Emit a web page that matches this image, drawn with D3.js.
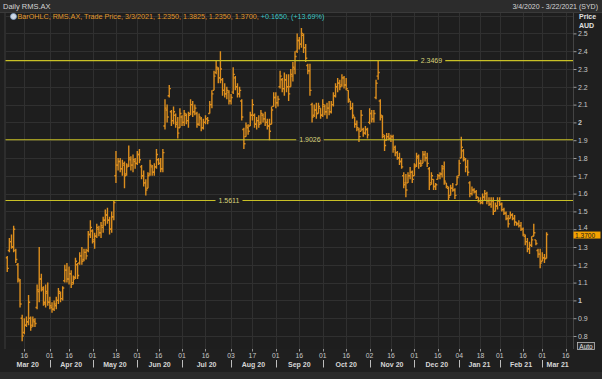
<!DOCTYPE html>
<html><head><meta charset="utf-8">
<script src="https://cdn.jsdelivr.net/npm/d3@7"></script>
<style>
html,body{margin:0;padding:0;background:#1f1f1f;overflow:hidden}
svg{display:block}
text{font-family:"Liberation Sans",Arial,sans-serif}
</style>
</head><body>
<svg id="chart" width="602" height="379"></svg>
<script>
// ---- data ----
const startDate = "2020-03-04";
const endDate = "2021-03-22";
const holidays = ["2020-04-10","2020-04-13","2020-06-08","2020-12-25","2020-12-28","2021-01-01","2021-01-26"];

const highs = [1.25,1.35,1.37,1.42,1.29,1.21,1.12,0.92,0.90,0.91,1.03,0.91,0.91,0.90,1.09,1.30,1.15,1.08,1.09,1.10,
1.02,0.99,1.00,1.02,1.07,1.05,1.08,1.20,1.21,1.19,1.17,1.14,1.24,1.21,1.27,1.30,1.29,1.29,1.39,1.45,
1.40,1.38,1.43,1.42,1.44,1.47,1.51,1.52,1.47,1.50,1.56,1.84,1.80,1.80,1.79,1.78,1.77,1.87,1.81,1.82,
1.80,1.84,1.85,1.76,1.73,1.68,1.72,1.79,1.76,1.77,1.85,1.80,1.80,1.85,2.13,2.10,2.21,2.07,2.09,2.05,
2.03,2.08,2.04,2.07,2.05,2.06,2.13,2.12,2.10,2.06,2.05,2.03,2.02,2.04,2.03,2.12,2.18,2.29,2.35,2.31,
2.40,2.25,2.22,2.20,2.18,2.16,2.31,2.26,2.22,2.20,2.13,1.97,2.00,1.99,2.06,2.13,2.05,2.03,2.04,2.07,
2.05,2.06,2.02,2.02,2.09,2.17,2.17,2.15,2.29,2.25,2.28,2.27,2.27,2.30,2.34,2.40,2.50,2.48,2.53,2.50,
2.44,2.33,2.33,2.11,2.10,2.11,2.11,2.08,2.13,2.10,2.11,2.12,2.12,2.17,2.22,2.25,2.24,2.27,2.26,2.25,
2.18,2.12,2.11,2.03,2.01,1.97,2.07,1.97,1.98,1.97,2.08,2.07,2.07,2.24,2.35,2.13,2.04,1.93,1.94,1.94,
1.93,1.93,1.87,1.84,1.83,1.80,1.72,1.71,1.72,1.75,1.73,1.77,1.83,1.82,1.79,1.84,1.84,1.83,1.75,1.72,
1.68,1.66,1.71,1.72,1.76,1.78,1.66,1.64,1.65,1.66,1.63,1.70,1.79,1.92,1.85,1.80,1.79,1.67,1.64,1.63,
1.62,1.58,1.58,1.60,1.62,1.61,1.58,1.58,1.58,1.55,1.58,1.58,1.55,1.52,1.50,1.48,1.50,1.49,1.48,1.44,
1.45,1.44,1.41,1.37,1.35,1.33,1.36,1.43,1.34,1.29,1.29,1.27,1.26,1.3825];

const lows = [1.16,1.27,1.29,1.27,1.21,1.10,0.96,0.77,0.81,0.85,0.86,0.83,0.85,0.85,0.95,0.99,1.05,0.97,0.96,0.97,
0.95,0.93,0.94,0.95,0.98,0.99,1.00,1.10,1.10,1.09,1.07,1.09,1.12,1.12,1.20,1.20,1.22,1.23,1.27,1.35,
1.32,1.29,1.35,1.36,1.35,1.38,1.42,1.43,1.37,1.38,1.45,1.66,1.73,1.72,1.70,1.63,1.70,1.75,1.73,1.72,
1.74,1.76,1.77,1.68,1.64,1.59,1.63,1.70,1.70,1.70,1.74,1.76,1.72,1.72,1.96,2.00,2.14,1.98,1.99,1.97,
1.91,1.97,1.98,1.98,1.99,1.97,2.04,2.03,2.04,1.97,1.98,1.95,1.96,1.99,1.99,2.05,2.08,2.18,2.27,2.22,
2.22,2.15,2.14,2.13,2.10,2.10,2.16,2.18,2.14,2.14,2.01,1.85,1.92,1.93,1.98,2.01,1.97,1.96,1.97,1.99,
2.00,1.98,1.96,1.90,1.99,2.09,2.08,2.09,2.19,2.17,2.15,2.17,2.12,2.20,2.23,2.27,2.39,2.41,2.42,2.39,
2.34,2.27,2.15,2.00,2.03,2.02,2.05,2.02,2.03,2.04,2.02,2.04,2.05,2.09,2.14,2.17,2.18,2.20,2.19,2.18,
2.11,2.07,2.02,1.97,1.95,1.89,1.95,1.92,1.93,1.91,1.99,2.00,2.00,2.13,2.24,2.01,1.91,1.84,1.90,1.90,
1.89,1.83,1.81,1.79,1.76,1.74,1.63,1.58,1.66,1.68,1.66,1.70,1.75,1.74,1.75,1.77,1.78,1.75,1.62,1.65,
1.62,1.62,1.68,1.68,1.69,1.65,1.63,1.56,1.59,1.61,1.57,1.65,1.70,1.80,1.78,1.72,1.70,1.58,1.59,1.60,
1.57,1.55,1.54,1.54,1.56,1.54,1.53,1.52,1.48,1.50,1.51,1.53,1.50,1.48,1.45,1.41,1.46,1.45,1.42,1.42,
1.41,1.39,1.36,1.31,1.27,1.26,1.30,1.36,1.31,1.24,1.18,1.22,1.21,1.235];

const opens = [1.24,1.28,1.33,1.30,1.28,1.20,1.11,0.90,0.82,0.86,0.88,0.90,0.86,0.88,0.96,1.05,1.12,1.06,0.98,1.04,
0.99,0.96,0.95,0.97,1.00,1.04,1.01,1.11,1.17,1.12,1.15,1.10,1.13,1.20,1.21,1.25,1.23,1.27,1.28,1.37,
1.39,1.33,1.36,1.40,1.38,1.41,1.45,1.48,1.45,1.40,1.47,1.70,1.76,1.78,1.74,1.76,1.71,1.76,1.79,1.76,
1.78,1.77,1.82,1.75,1.70,1.66,1.63,1.71,1.75,1.72,1.75,1.79,1.77,1.74,1.98,2.07,2.15,2.06,2.01,2.04,
2.00,1.97,2.03,2.00,2.04,2.01,2.05,2.10,2.06,2.05,1.99,2.02,1.97,2.00,2.02,2.05,2.10,2.18,2.28,2.30,
2.25,2.24,2.18,2.16,2.17,2.12,2.17,2.25,2.20,2.16,2.12,1.96,1.92,1.97,1.98,2.04,2.04,1.99,2.01,2.00,
2.04,2.02,2.00,1.98,1.99,2.09,2.14,2.11,2.20,2.24,2.19,2.24,2.20,2.20,2.26,2.30,2.40,2.46,2.44,2.49,
2.42,2.32,2.29,2.10,2.04,2.07,2.05,2.08,2.04,2.09,2.06,2.08,2.06,2.10,2.15,2.20,2.22,2.21,2.25,2.21,
2.18,2.12,2.08,2.03,1.99,1.96,1.95,1.96,1.94,1.96,2.00,2.05,2.02,2.14,2.26,2.12,2.03,1.92,1.90,1.92,
1.91,1.92,1.86,1.83,1.80,1.78,1.70,1.66,1.66,1.70,1.72,1.70,1.76,1.80,1.77,1.77,1.82,1.80,1.74,1.66,
1.68,1.64,1.68,1.70,1.71,1.75,1.66,1.63,1.59,1.63,1.62,1.65,1.70,1.80,1.84,1.79,1.75,1.66,1.60,1.62,
1.61,1.58,1.56,1.55,1.58,1.60,1.56,1.54,1.56,1.50,1.53,1.56,1.54,1.51,1.49,1.46,1.46,1.48,1.46,1.44,
1.43,1.42,1.40,1.36,1.33,1.29,1.31,1.36,1.34,1.28,1.26,1.22,1.24,1.235];

const closes = [1.18,1.33,1.30,1.40,1.23,1.12,0.98,0.80,0.86,0.88,0.99,0.85,0.89,0.87,1.06,1.12,1.07,0.99,1.05,0.99,
0.97,0.95,0.98,1.00,1.05,1.01,1.07,1.17,1.12,1.15,1.09,1.12,1.22,1.14,1.25,1.22,1.27,1.25,1.37,1.41,
1.34,1.36,1.41,1.38,1.42,1.45,1.48,1.45,1.40,1.47,1.55,1.76,1.78,1.74,1.77,1.70,1.75,1.80,1.76,1.79,
1.77,1.82,1.79,1.70,1.66,1.62,1.70,1.76,1.72,1.75,1.82,1.77,1.74,1.83,2.08,2.03,2.19,2.01,2.06,1.99,
1.94,2.05,2.00,2.05,2.01,2.04,2.10,2.06,2.08,1.99,2.03,1.97,2.00,2.02,2.01,2.10,2.16,2.26,2.31,2.25,
2.30,2.18,2.16,2.18,2.12,2.14,2.27,2.20,2.16,2.18,2.03,1.88,1.98,1.95,2.04,2.10,1.99,2.01,1.99,2.05,
2.02,2.00,1.98,1.95,2.07,2.14,2.11,2.13,2.26,2.19,2.24,2.20,2.16,2.27,2.31,2.37,2.46,2.44,2.50,2.42,
2.36,2.29,2.18,2.03,2.07,2.05,2.09,2.04,2.10,2.06,2.08,2.06,2.10,2.15,2.20,2.22,2.20,2.25,2.21,2.19,
2.13,2.08,2.04,1.99,1.97,1.92,2.04,1.94,1.96,1.93,2.05,2.02,2.05,2.22,2.28,2.04,1.93,1.87,1.92,1.91,
1.92,1.85,1.83,1.80,1.78,1.75,1.65,1.62,1.70,1.72,1.68,1.75,1.81,1.77,1.76,1.82,1.80,1.77,1.65,1.70,
1.64,1.65,1.70,1.71,1.74,1.67,1.64,1.58,1.63,1.62,1.59,1.69,1.77,1.86,1.80,1.75,1.72,1.60,1.62,1.61,
1.58,1.56,1.55,1.58,1.60,1.56,1.54,1.56,1.50,1.53,1.56,1.54,1.51,1.49,1.46,1.43,1.48,1.46,1.44,1.43,
1.42,1.40,1.37,1.33,1.29,1.31,1.34,1.38,1.32,1.26,1.21,1.24,1.235,1.37];

const priceTicks = [0.8,0.9,1,1.1,1.2,1.3,1.4,1.5,1.6,1.7,1.8,1.9,2,2.1,2.2,2.3,2.4,2.5];
const gridLevels = [0.8,0.9,1,1.1,1.2,1.3,1.4,1.5,1.6,1.7,1.8,1.9,2,2.1,2.2,2.3,2.4,2.5,2.6];
const refLevels = [2.3469, 1.9026, 1.5611];
const refLabelAt = ["2020-12-11", "2020-09-23", "2020-07-31"];
const lastPrice = 1.37;
const legendMain = "BarOHLC, RMS.AX, Trade Price, 3/3/2021, 1.2350, 1.3825, 1.2350, 1.3700,";
const legendChange = "+0.1650, (+13.69%)";
const title = "Daily RMS.AX";
const rangeText = "3/4/2020 - 3/22/2021 (SYD)";

// ---- trading calendar (categories) ----
const pd = d3.utcParse("%Y-%m-%d"), fd = d3.utcFormat("%Y-%m-%d");
const hol = new Set(holidays);
const days = d3.utcDays(pd(startDate), d3.utcDay.offset(pd(endDate), 1))
  .filter(d => d.getUTCDay() !== 0 && d.getUTCDay() !== 6 && !hol.has(fd(d)));
const idxOf = s => days.findIndex(d => fd(d) === s);

const bars = highs.map((h, i) => ({i, h, l: lows[i], o: opens[i], c: closes[i]}));

// ---- layout ----
const W = 602, H = 379;
const P = {l: 5.5, r: 573, t: 13, b: 349};
const x = d3.scaleLinear().domain([-0.82, 265.4]).range([P.l, P.r]);
const y = d3.scaleLinear().domain([0.8, 2.5]).range([336, 33.4]);

const svg = d3.select("#chart");
svg.append("rect").attr("width", W).attr("height", H).attr("fill", "#1f1f1f");
// header
svg.append("rect").attr("width", W).attr("height", 12).attr("fill", "#2c2c2c");
svg.append("line").attr("x1", 0).attr("x2", W).attr("y1", 12.5).attr("y2", 12.5).attr("stroke", "#3a3a3a");
svg.append("text").attr("x", 3).attr("y", 9).attr("fill", "#d4d4d4").attr("font-size", 7.5).text(title);
svg.append("text").attr("x", 598).attr("y", 9).attr("text-anchor", "end").attr("fill", "#d4d4d4").attr("font-size", 7).text(rangeText);

// plot bg
svg.append("rect").attr("x", P.l).attr("y", P.t).attr("width", P.r - P.l).attr("height", P.b - P.t).attr("fill", "#1e1e1e");
svg.append("line").attr("x1", P.l - 0.5).attr("x2", P.l - 0.5).attr("y1", P.t).attr("y2", P.b).attr("stroke", "#3c3c3c");
// bottom strip
svg.append("rect").attr("x", 0).attr("y", 372).attr("width", W).attr("height", 7).attr("fill", "#2a2a2a");

// date ticks: first trading day on/after the 1st and 16th of each month
const ticks = [];
days.forEach((d, i) => {
  const prev = days[i - 1];
  const dd = d.getUTCDate();
  const newMonth = !prev || prev.getUTCMonth() !== d.getUTCMonth();
  const crossed16 = dd >= 16 && (!prev || prev.getUTCMonth() !== d.getUTCMonth() || prev.getUTCDate() < 16);
  if ((newMonth && i > 0) || crossed16) ticks.push({i, d});
});
const months = [];
days.forEach((d, i) => {
  if (i === 0 || days[i - 1].getUTCMonth() !== d.getUTCMonth()) months.push({i, d});
});

const grid = svg.append("g");
grid.selectAll("line.v").data(ticks).join("line").attr("class", "v")
  .attr("x1", d => Math.round(x(d.i)) + 0.5).attr("x2", d => Math.round(x(d.i)) + 0.5)
  .attr("y1", P.t).attr("y2", P.b).attr("stroke", "#303030");
grid.selectAll("line.h").data(gridLevels).join("line").attr("class", "h")
  .attr("x1", P.l).attr("x2", P.r)
  .attr("y1", d => Math.round(y(d)) + 0.5).attr("y2", d => Math.round(y(d)) + 0.5).attr("stroke", "#303030");

// clip
svg.append("clipPath").attr("id", "clip").append("rect")
  .attr("x", P.l).attr("y", P.t).attr("width", P.r - P.l).attr("height", P.b - P.t);

// OHLC bars
const barColor = "#dc8e1e";
const gb = svg.append("g").attr("clip-path", "url(#clip)").attr("stroke", barColor).attr("stroke-width", 1.4).attr("fill", "none");
gb.selectAll("path").data(bars).join("path")
  .attr("d", d => {
    const cx = x(d.i);
    return `M${cx},${y(d.h)}V${y(d.l)}M${cx - 1.6},${y(d.o)}H${cx}M${cx},${y(d.c)}H${cx + 1.6}`;
  });

// reference lines with labels
const refColor = "#c9c126";
refLevels.forEach((v, k) => {
  const yy = y(v);
  const lx = x(idxOf(refLabelAt[k]));
  const g = svg.append("g");
  const t = g.append("text").attr("x", lx).attr("y", yy + 2.5).attr("text-anchor", "middle")
    .attr("fill", "#d8d27a").attr("font-size", 7).text(v.toFixed(4));
  const bb = t.node().getBBox();
  g.insert("line", "text").attr("x1", P.l).attr("x2", bb.x - 3).attr("y1", yy).attr("y2", yy).attr("stroke", refColor).attr("stroke-width", 1.1);
  g.insert("line", "text").attr("x1", bb.x + bb.width + 3).attr("x2", P.r).attr("y1", yy).attr("y2", yy).attr("stroke", refColor).attr("stroke-width", 1.1);
});

// legend
svg.append("circle").attr("cx", 13.5).attr("cy", 16.5).attr("r", 3).attr("fill", "#cfd8e4").attr("stroke", "#7f9fc8").attr("stroke-width", 0.8);
const leg = svg.append("text").attr("x", 17.5).attr("y", 19.3).attr("font-size", 7.2);
leg.append("tspan").attr("fill", "#e39a2c").text(legendMain + " ");
leg.append("tspan").attr("fill", "#3cc6c6").text(legendChange);

// right axis
svg.append("line").attr("x1", P.r + 0.5).attr("x2", P.r + 0.5).attr("y1", P.t).attr("y2", P.b).attr("stroke", "#444");
const ya = svg.append("g").attr("transform", `translate(${P.r + 0.5},0)`)
  .call(d3.axisRight(y).tickValues(priceTicks).tickSize(3).tickPadding(1.5)
    .tickFormat(d => d3.format("")(d)));
ya.select(".domain").remove();
ya.selectAll("line").attr("stroke", "#9a9a9a");
ya.selectAll("text").attr("fill", "#c8c8c8").attr("font-size", 7)
  .attr("font-weight", d => Number.isInteger(d) ? "bold" : "normal")
  .attr("font-family", '"Liberation Sans",Arial,sans-serif')
  .attr("dy", d => d === 1.4 ? "0.05em" : "0.32em");
svg.append("text").attr("x", 579).attr("y", 19).attr("fill", "#e0e0e0").attr("font-size", 7).attr("font-weight", "bold").text("Price");
svg.append("text").attr("x", 579).attr("y", 27.5).attr("fill", "#e0e0e0").attr("font-size", 7).attr("font-weight", "bold").text("AUD");

// last price tag
const ty = y(lastPrice);
svg.append("rect").attr("x", 573.5).attr("y", ty - 3).attr("width", 27).attr("height", 7).attr("fill", "#f5a300");
svg.append("text").attr("x", 575).attr("y", ty + 3).attr("fill", "#1a1a1a").attr("font-size", 6.6).text(lastPrice.toFixed(4));

// Auto box
svg.append("rect").attr("x", 577.5).attr("y", 342.5).attr("width", 17).attr("height", 7).attr("fill", "#2a2a2a").attr("stroke", "#bbbbbb").attr("stroke-width", 0.8);
svg.append("text").attr("x", 586).attr("y", 348.6).attr("text-anchor", "middle").attr("fill", "#e0e0e0").attr("font-size", 6.5).text("Auto");

// bottom axis
const xa = svg.append("g");
xa.selectAll("line.tk").data(ticks).join("line").attr("class", "tk")
  .attr("x1", d => Math.round(x(d.i)) + 0.5).attr("x2", d => Math.round(x(d.i)) + 0.5)
  .attr("y1", P.b).attr("y2", P.b + 2.5).attr("stroke", "#9a9a9a");
xa.selectAll("text.day").data(ticks).join("text").attr("class", "day")
  .attr("x", d => x(d.i)).attr("y", 358).attr("text-anchor", "middle")
  .attr("fill", "#c8c8c8").attr("font-size", 6.8).text(d => d3.utcFormat("%d")(d.d));
const monthSpans = months.map((m, k) => {
  const x0 = k === 0 ? P.l : x(m.i);
  const x1 = k < months.length - 1 ? x(months[k + 1].i) : P.r;
  return {m, x0, x1};
});
xa.selectAll("text.mon").data(monthSpans).join("text").attr("class", "mon")
  .attr("x", d => (d.x0 + d.x1) / 2).attr("y", 366.5).attr("text-anchor", "middle")
  .attr("fill", "#d6d6d6").attr("font-size", 7).attr("font-weight", "bold")
  .text(d => d3.utcFormat("%b %y")(d.m.d));
xa.selectAll("line.sep").data(months.slice(1)).join("line").attr("class", "sep")
  .attr("x1", d => Math.round(x(d.i)) + 0.5).attr("x2", d => Math.round(x(d.i)) + 0.5)
  .attr("y1", 360).attr("y2", 367.5).attr("stroke", "#bdbdbd");
</script>
</body></html>
